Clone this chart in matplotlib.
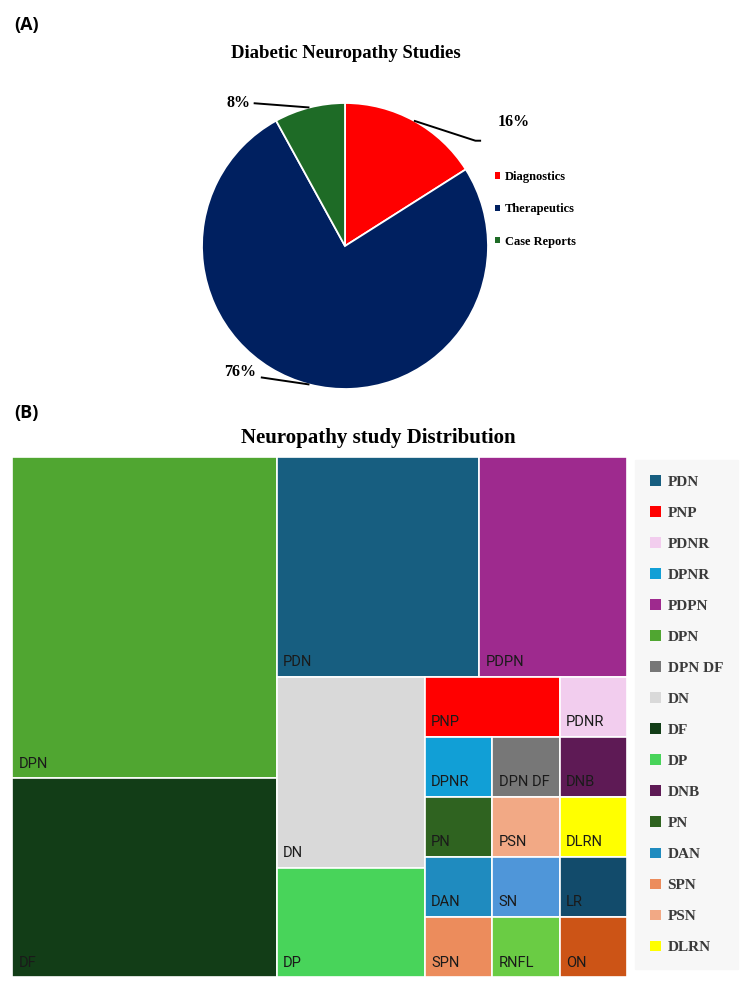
import matplotlib
matplotlib.use("Agg")
import matplotlib.pyplot as plt
from matplotlib.patches import Rectangle, Patch
import numpy as np

# ── Panel A: study types ───────────────────────────────────────
pie_labels = ['Diagnostics', 'Therapeutics', 'Case Reports']
pie_values = [16, 76, 8]
pie_colors = ['#ff0000', '#002060', '#1e6b26']

# ── Panel B: neuropathy study counts (sorted, as tiled) ────────
tm_labels = ['DPN', 'DF', 'PDN', 'PDPN', 'DN', 'DP', 'PNP', 'PDNR',
             'DPNR', 'DPN DF', 'DNB', 'PN', 'DAN', 'SPN', 'PSN', 'DLRN',
             'SN', 'RNFL', 'LR', 'ON']
tm_values = [21, 13, 11, 8, 7, 4, 2, 1,
             1, 1, 1, 1, 1, 1, 1, 1,
             1, 1, 1, 1]
tm_colors = ['#50a631', '#123d17', '#175e80', '#9e2a8e', '#d9d9d9', '#48d45a',
             '#ff0000', '#f2cdee', '#119fd6', '#777777', '#5e1a55', '#2f6320',
             '#1f8bbf', '#ec8c5c', '#f2a985', '#ffff00', '#4f96d9', '#6acc44',
             '#124b6b', '#cc5416']
# number of tiles in each strip of the squarified layout
tm_strips = [2, 2, 2, 2, 3, 3, 2, 2, 2]
legend_order = ['PDN', 'PNP', 'PDNR', 'DPNR', 'PDPN', 'DPN', 'DPN DF', 'DN',
                'DF', 'DP', 'DNB', 'PN', 'DAN', 'SPN', 'PSN', 'DLRN']

SERIF = 'Liberation Serif'
FIG_W, FIG_H = 750, 992


def strip_layout(values, strips, x, y, w, h):
    """Squarify-style strips: each strip runs along the shorter side,
    the final strip is split along the longer side."""
    rects = []
    remaining = float(sum(values))
    i = 0
    for k, n in enumerate(strips):
        vals = values[i:i + n]
        s = float(sum(vals))
        last = k == len(strips) - 1
        as_row = (w < h) if not last else (w >= h)
        if as_row:
            sh = h * s / remaining
            xx = x
            for v in vals:
                ww = w * v / s
                rects.append((xx, y, ww, sh))
                xx += ww
            y += sh
            h -= sh
        else:
            sw = w * s / remaining
            yy = y
            for v in vals:
                hh = h * v / s
                rects.append((x, yy, sw, hh))
                yy += hh
            x += sw
            w -= sw
        remaining -= s
        i += n
    return rects


fig = plt.figure(figsize=(FIG_W / 100, FIG_H / 100), dpi=100)


def fx(px):
    return px / FIG_W


def fy(py):
    return 1 - py / FIG_H


# ── (A) pie ────────────────────────────────────────────────────
cx, cy, r = 345, 246, 143
ax1 = fig.add_axes([fx(cx - 1.25 * r), fy(cy + 1.25 * r), 2.5 * r / FIG_W, 2.5 * r / FIG_H])
wedges, _ = ax1.pie(pie_values, colors=pie_colors, startangle=90, counterclock=False,
                    wedgeprops=dict(edgecolor='white', linewidth=1.3))
ax1.set_xlim(-1.25, 1.25)
ax1.set_ylim(-1.25, 1.25)

# leader lines: (elbow offsets, text offset) relative to wedge mid-point
leaders = {
    0: dict(pts=[(0.43, -0.14), (0.47, -0.14)], txt=(0.70, -0.01), ha='center'),
    2: dict(pts=[(-0.39, 0.03)], txt=(-0.41, 0.03), ha='right'),
    1: dict(pts=[(-0.34, 0.05)], txt=(-0.37, 0.09), ha='right'),
}
for i, w in enumerate(wedges):
    ang = np.deg2rad((w.theta1 + w.theta2) / 2)
    mx, my = np.cos(ang), np.sin(ang)
    spec = leaders[i]
    xs = [mx] + [mx + dx for dx, dy in spec['pts']]
    ys = [my] + [my + dy for dx, dy in spec['pts']]
    ax1.plot(xs, ys, color='black', lw=1.4, solid_capstyle='butt', clip_on=False)
    ax1.text(mx + spec['txt'][0], my + spec['txt'][1], f'{pie_values[i]}%',
             ha=spec['ha'], va='center', fontsize=11.5, fontweight='bold', family=SERIF)

fig.text(fx(346), fy(53), 'Diabetic Neuropathy Studies', ha='center', va='center',
         fontsize=13.5, fontweight='bold', family=SERIF)
fig.text(fx(14), fy(25), '(A)', ha='left', va='center', fontsize=13,
         fontweight='bold', family='Open Sans')

pie_handles = [Patch(facecolor=c, edgecolor='none') for c in pie_colors]
fig.legend(pie_handles, pie_labels, loc='upper left', bbox_to_anchor=(fx(495), fy(171)),
           frameon=False, borderpad=0, borderaxespad=0, handlelength=0.4, handleheight=0.4,
           handletextpad=0.4, labelspacing=1.62,
           prop=dict(family=SERIF, weight='bold', size=9))

# ── (B) treemap ────────────────────────────────────────────────
tm_left, tm_top, tm_right, tm_bottom = 12, 457, 627, 977
W, H = tm_right - tm_left, tm_bottom - tm_top
ax2 = fig.add_axes([fx(tm_left), fy(tm_bottom), W / FIG_W, H / FIG_H])
ax2.set_xlim(0, W)
ax2.set_ylim(H, 0)
ax2.axis('off')

rects = strip_layout(tm_values, tm_strips, 0, 0, W, H)
for (x, y, w, h), lab, col in zip(rects, tm_labels, tm_colors):
    ax2.add_patch(Rectangle((x, y), w, h, facecolor=col, edgecolor='white', linewidth=1.2))
    ax2.annotate(lab, xy=(x, y + h), xytext=(4.5, 7.5), textcoords='offset points',
                 ha='left', va='baseline', fontsize=10.5, family='Roboto', color='#1a1a1a')

fig.text(fx(378), fy(438), 'Neuropathy study Distribution', ha='center', va='center',
         fontsize=15, fontweight='bold', family=SERIF)
fig.text(fx(14), fy(413), '(B)', ha='left', va='center', fontsize=13,
         fontweight='bold', family='Open Sans')

color_of = dict(zip(tm_labels, tm_colors))
tm_handles = [Patch(facecolor=color_of[l], edgecolor='none') for l in legend_order]
fig.legend(tm_handles, legend_order, loc='upper left', bbox_to_anchor=(fx(635), fy(460)),
           frameon=True, fancybox=False, facecolor='#f7f7f7', edgecolor='#f7f7f7',
           framealpha=1, borderpad=1.0, borderaxespad=0, handlelength=0.68,
           handleheight=0.68, handletextpad=0.45, labelspacing=1.14,
           labelcolor='#3a3a3a', prop=dict(family=SERIF, weight='bold', size=11))

fig.savefig('out.png', dpi=100)
